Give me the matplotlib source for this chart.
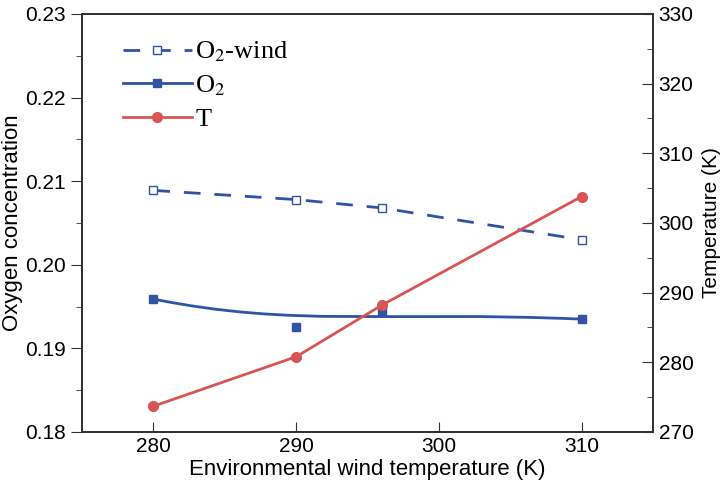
import matplotlib
matplotlib.use("Agg")
import matplotlib.pyplot as plt
from matplotlib.path import Path
from matplotlib.patches import PathPatch
from matplotlib.lines import Line2D
from matplotlib.ticker import MultipleLocator

plt.rcParams['font.family'] = ['Liberation Sans', 'DejaVu Sans']
plt.rcParams['mathtext.fontset'] = 'stix'

# data
wind_temp = [280, 290, 296, 310]
o2_wind = [0.2089, 0.2078, 0.2068, 0.2030]
o2 = [0.1959, 0.1925, 0.1945, 0.1935]
temp = [273.7, 280.8, 288.2, 303.8]

blue = '#2f54a3'
red = '#d95454'

fig = plt.figure(figsize=(7.22, 4.91), dpi=100)
ax = fig.add_axes([0.1136, 0.1202, 0.7908, 0.8513])
ax2 = ax.twinx()

# O2-wind dashed
ax.plot(wind_temp, o2_wind, color=blue, lw=2, dashes=(6, 5),
        marker='s', ms=6, mfc='white', mec=blue, mew=1)

# O2: B-spline (cubic bezier on the points as control points), markers at data
verts = list(zip(wind_temp, o2))
codes = [Path.MOVETO, Path.CURVE4, Path.CURVE4, Path.CURVE4]
ax.add_patch(PathPatch(Path(verts, codes), fc='none', ec=blue, lw=2))
ax.plot(wind_temp, o2, ls='none', marker='s', ms=6, color=blue)

# temperature on right axis
ax2.plot(wind_temp, temp, color=red, lw=2, marker='o', ms=7)

ax.set_xlim(275, 315)
ax.set_ylim(0.18, 0.23)
ax2.set_ylim(270, 330)
ax.set_xticks([280, 290, 300, 310])
ax.yaxis.set_major_locator(MultipleLocator(0.01))
ax.yaxis.set_minor_locator(MultipleLocator(0.005))
ax2.yaxis.set_major_locator(MultipleLocator(10))
ax2.yaxis.set_minor_locator(MultipleLocator(5))

ax.tick_params(axis='y', which='both', direction='out', labelsize=15, color='#333333')
ax.tick_params(axis='y', which='major', length=8)
ax.tick_params(axis='y', which='minor', length=4)
ax.tick_params(axis='x', direction='in', length=7, labelsize=15, color='#333333')
ax2.tick_params(axis='y', which='both', direction='in', labelsize=15, color='#333333', pad=4)
ax2.tick_params(axis='y', which='major', length=8)
ax2.tick_params(axis='y', which='minor', length=4)

for a in (ax, ax2):
    for s in a.spines.values():
        s.set_linewidth(1.3)
        s.set_color('#333333')

ax.yaxis.set_major_formatter(plt.FuncFormatter(lambda v, p: f'{v:.2f}'))
ax.set_xlabel('Environmental wind temperature (K)', fontsize=16, labelpad=2)
ax.set_ylabel('Oxygen concentration', fontsize=16, labelpad=2)
ax2.set_ylabel('Temperature (K)', fontsize=15, va='center')
ax2.yaxis.set_label_coords((712 - 82) / 571, 0.5)

handles = [
    Line2D([], [], color=blue, lw=2, dashes=(6, 5), marker='s', ms=6, mfc='white', mec=blue, mew=1),
    Line2D([], [], color=blue, lw=2, marker='s', ms=6),
    Line2D([], [], color=red, lw=2, marker='o', ms=7),
]
ax.legend(handles, ['O$_2$-wind', 'O$_2$', 'T'], loc='upper left', frameon=False,
          prop={'family': 'Liberation Serif', 'size': 19}, handlelength=2.6,
          handletextpad=0.15, labelspacing=0.35, bbox_to_anchor=(0.03, 0.995))

fig.savefig('out.png', dpi=100)
